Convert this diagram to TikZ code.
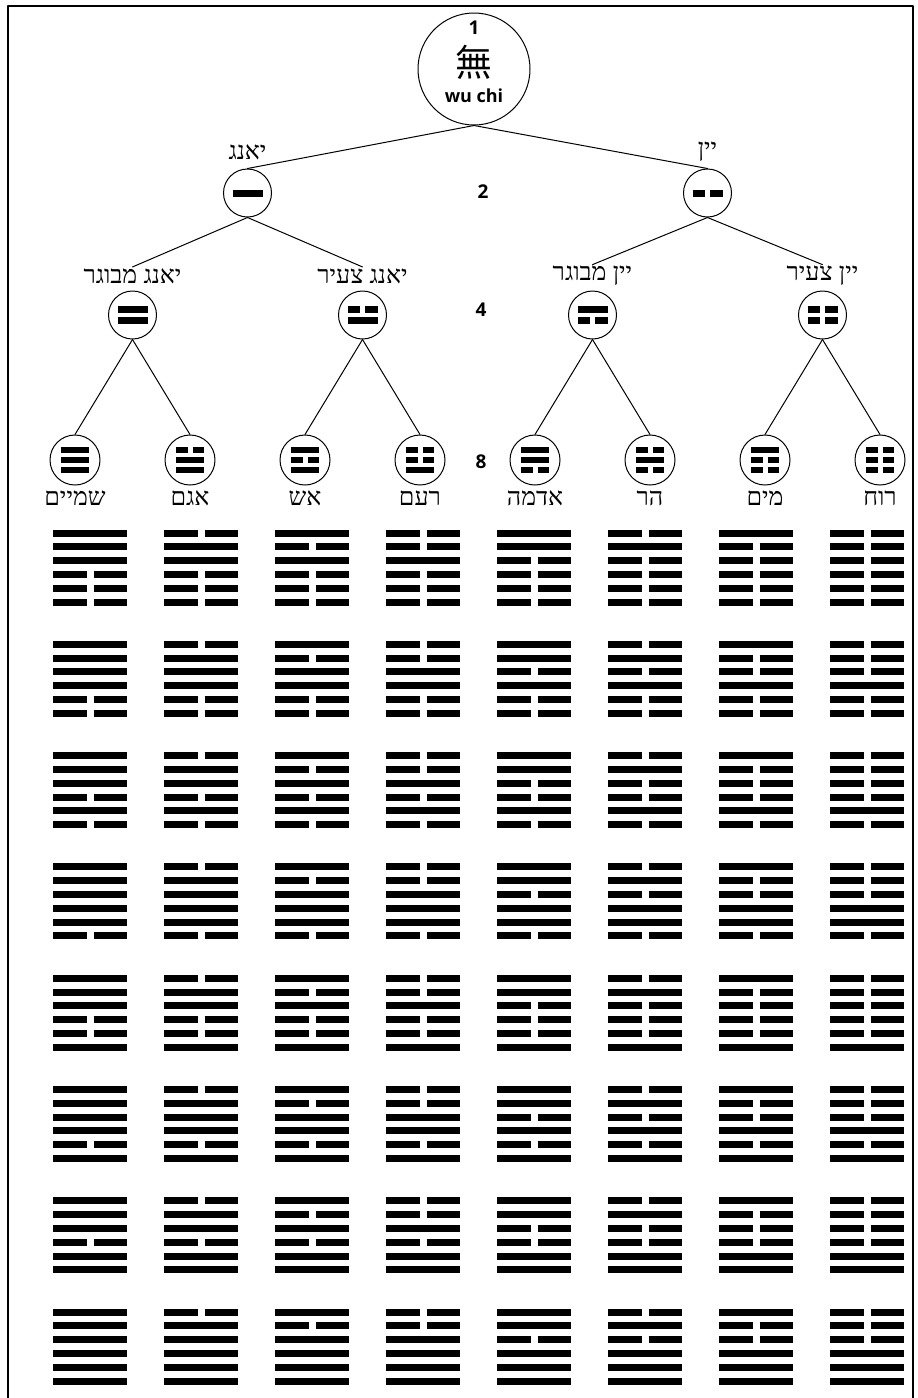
\documentclass[tikz,border=0pt]{standalone}
\usepackage{fontspec}
\setmainfont{Liberation Serif}
\newfontfamily\hebfont[Script=Hebrew]{Liberation Serif}
\newfontfamily\cjkfont{Noto Sans CJK TC}
\newfontfamily\latfont{Open Sans}
\TeXXeTstate=1

%% one yao line: x, y, half width, half gap, broken(0/1)
\newcommand{\yao}[5]{%
  \ifnum#5=0
    \draw (#1-#3,#2) -- (#1+#3,#2);
  \else
    \draw (#1-#3,#2) -- (#1-#4,#2) (#1+#4,#2) -- (#1+#3,#2);
  \fi}

\tikzset{
  wujinode/.style={circle, draw, line width=1pt, minimum size=112pt, inner sep=0pt},
  xiang/.style={circle, draw, line width=1pt, minimum size=48pt, inner sep=0pt},
  guanode/.style={circle, draw, line width=1pt, minimum size=50pt, inner sep=0pt},
  heblabel/.style={font=\hebfont\fontsize{25}{25}\selectfont, inner sep=1pt},
  levelnum/.style={font=\latfont\bfseries\fontsize{19}{19}\selectfont, inner sep=0pt},
  yaobar/.style={line cap=butt},
}

\begin{document}
\begin{tikzpicture}[x=1pt, y=-1pt, line width=1pt, line cap=round, line join=round]

  %% ════ canvas and frame ════
  \fill[white] (0,0) rectangle (918,1398);
  \draw[line width=2pt, line cap=butt] (8,1410) -- (8,6) -- (913,6) -- (913,1410);

  %% ════ wu chi ════
  \node[wujinode] (wuji) at (474,69) {};
  \node[levelnum] (num1) at (474,28) {1};
  \node[font=\cjkfont\fontsize{37}{37}\selectfont, inner sep=0pt] (wujichar) at (474,62) {無};
  \node[font=\latfont\bfseries\fontsize{18}{18}\selectfont, inner sep=0pt] (wujiname) at (474,96) {wu chi};

  %% ════ level 2 ════
  \foreach \j/\txt in {0/יאנג, 1/יין}{
    \pgfmathsetmacro{\nx}{247.5+460*\j}
    \node[xiang] (lv2-\j) at (\nx,193) {};
    \node[heblabel] (lab2-\j) at (\nx,152) {\beginR\txt\endR};
    \begin{scope}[yaobar, line width=7pt]
      \yao{\nx}{193}{15}{2.5}{\j}
    \end{scope}
  }
  \node[levelnum] (num2) at (483,192) {2};

  %% ════ level 4 ════
  \foreach \j/\txt in {0/יאנג מבוגר, 1/יאנג צעיר, 2/יין מבוגר, 3/יין צעיר}{
    \pgfmathsetmacro{\nx}{132.5+230*\j}
    \node[xiang] (lv4-\j) at (\nx,315) {};
    \node[heblabel] (lab4-\j) at (\nx,276) {\beginR\txt\endR};
    \begin{scope}[yaobar, line width=6.5pt]
      \foreach \i in {0,1}{
        \pgfmathtruncatemacro{\brk}{mod(floor(\j/2^\i),2)}
        \yao{\nx}{309.5+11*\i}{15}{2.5}{\brk}
      }
    \end{scope}
  }
  \node[levelnum] (num4) at (481,310) {4};

  %% ════ level 8 ════
  \foreach \j/\txt in {0/שמיים, 1/אגם, 2/אש, 3/רעם, 4/אדמה, 5/הר, 6/מים, 7/רוח}{
    \pgfmathsetmacro{\nx}{75+115*\j}
    \node[guanode] (lv8-\j) at (\nx,460) {};
    \node[heblabel] (lab8-\j) at (\nx,498) {\beginR\txt\endR};
    \begin{scope}[yaobar, line width=5.5pt]
      \foreach \i in {0,1,2}{
        \pgfmathtruncatemacro{\brk}{mod(floor(\j/2^\i),2)}
        \yao{\nx}{450+10*\i}{14}{2.5}{\brk}
      }
    \end{scope}
  }
  \node[levelnum] (num8) at (481,462) {8};

  %% ════ tree edges ════
  \foreach \j in {0,1} \draw (wuji.south) -- (lv2-\j.north);
  \foreach \j in {0,...,3}{
    \pgfmathtruncatemacro{\up}{\j/2}
    \draw (lv2-\up.south) -- (lab4-\j.north);
  }
  \foreach \j in {0,...,7}{
    \pgfmathtruncatemacro{\up}{\j/2}
    \draw (lv4-\up.south) -- (lv8-\j.north);
  }

  %% ════ 64 hexagrams: upper trigram by column, lower by row ════
  \begin{scope}[yaobar, line width=7pt]
    \foreach \col in {1,...,8}{
      \foreach \row in {1,...,8}{
        \pgfmathsetmacro{\hx}{90+111*(\col-1)}
        \pgfmathsetmacro{\hy}{533+111.3*(\row-1)}
        \foreach \i in {0,...,5}{
          \pgfmathtruncatemacro{\trig}{\i<3 ? \col-1 : 8-\row}
          \pgfmathtruncatemacro{\brk}{mod(floor(\trig/2^mod(\i,3)),2)}
          \yao{\hx}{\hy+13.8*\i}{37}{3.5}{\brk}
        }
      }
    }
  \end{scope}

  \pgfresetboundingbox
  \path[use as bounding box] (0,0) rectangle (918,1398);
\end{tikzpicture}
\end{document}
